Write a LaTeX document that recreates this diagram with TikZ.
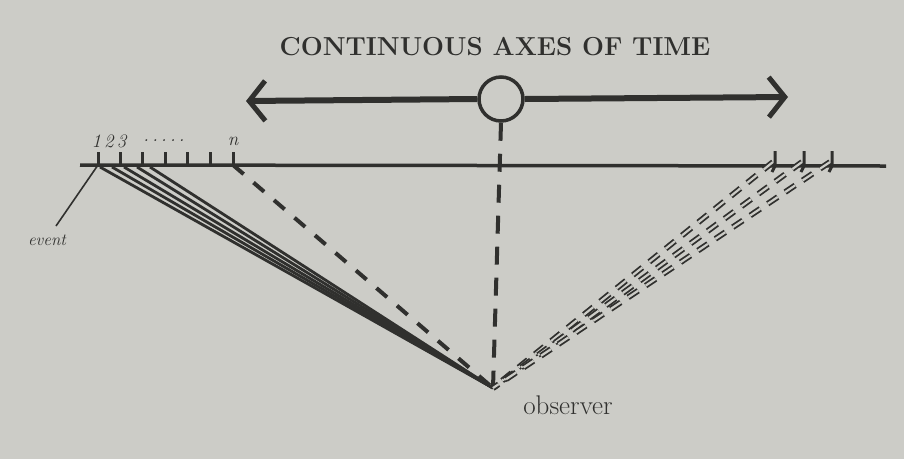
\documentclass[tikz,border=0pt]{standalone}
\usepackage{tikz}
\usetikzlibrary{arrows.meta, positioning}
\definecolor{paper}{RGB}{204,204,199}
\definecolor{ink}{RGB}{48,48,46}

\begin{document}
\begin{tikzpicture}[
    x=1pt, y=-1pt,
    >={Straight Barb[length=16pt, width=40pt, line width=5pt]},
    title/.style={font=\fontsize{26}{30}\selectfont\bfseries, text=ink},
    label/.style={font=\fontsize{19}{22}\selectfont\itshape, text=ink},
    axis/.style={line width=6pt, draw=ink},
    now/.style={circle, draw=ink, line width=3.5pt, fill=paper, minimum size=44pt, inner sep=0pt},
    tick/.style={line width=3pt, draw=ink},
    ray/.style={line width=2.8pt, draw=ink},
    dashray/.style={line width=4pt, draw=ink, dash pattern=on 14pt off 13pt},
    doubleray/.style={line width=1.8pt, draw=ink, double=paper, double distance=2.2pt, dash pattern=on 12pt off 9pt},
]

% Paper
\fill[paper] (0,0) rectangle (904,459);
\useasboundingbox (0,0) rectangle (904,459);

% Nodes
\node[title] (heading) at (495,47) {CONTINUOUS AXES OF TIME};
\coordinate (past) at (246,101);
\coordinate (future) at (788,97);
\node[now] (present) at (501,99) {};
\coordinate (obs) at (493,388);
\node[font=\fontsize{27}{30}\selectfont, text=ink] (observer) at (568,405) {observer};

% Axis of time
\draw[axis, <-] (past) -- (present.west);
\draw[axis, ->] (present.east) -- (future);

% Time line
\coordinate (lineL) at (80,165);
\coordinate (lineR) at (886,166);
\draw[line width=3.5pt, ink] (lineL) -- (lineR);

% Ticks, left
\foreach \x [count=\i] in {98,120,142,165,187,210,233}
    \coordinate (t\i) at (\x,165);
\foreach \i in {1,...,7}
    \draw[tick] (t\i) -- ++(0,-13);
\node[label] (one) at (109,141) {1\,2\,3};
\node[label] (dots) at (164,141) {.\,.\,.\,.\,.};
\node[label] (n) at (233,141) {n};

% Ticks, right
\foreach \x [count=\i] in {773,802,830}
    \coordinate (r\i) at (\x,166);
\foreach \i in {1,2,3}
    \draw[tick] ([xshift=2pt]r\i) -- ++(0,-15) ([xshift=2pt]r\i) -- ++(-3,6);

% Event
\coordinate (ev) at (56,226);
\draw[line width=1.6pt, ink] (t1) -- (ev);
\node[label, font=\fontsize{17}{20}\selectfont\itshape] (event) at (47,240) {event};

% Solid rays
\foreach \x in {100,112,124,137,150}
    \draw[ray] (\x,167) -- (obs);

% Dashed rays
\draw[dashray] (t7) -- (obs);
\draw[dashray, dash pattern=on 18pt off 13pt] (present.south) -- (obs);
\foreach \i in {1,2,3}
    \draw[doubleray] ([yshift=4pt]r\i) -- (obs);

\end{tikzpicture}
\end{document}
